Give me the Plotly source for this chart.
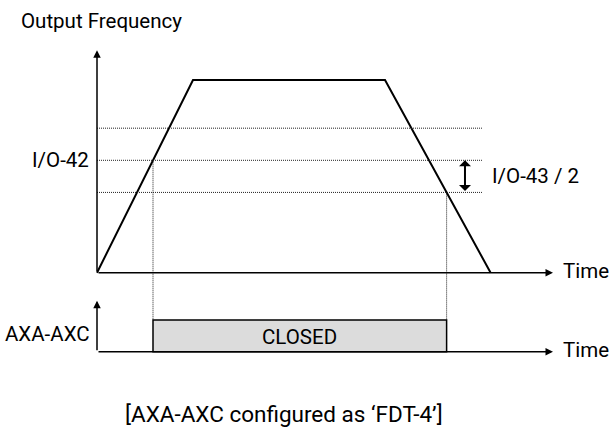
import numpy as np
import plotly.graph_objects as go

# ---- data (diagram values) ----
time_pts = [0.0, 1.0, 3.0, 4.1]        # accel start, reach max, decel start, stop
freq_pts = [0.0, 60.0, 60.0, 0.0]      # output frequency
io42 = 35.0                            # I/O-42 detection frequency
io43 = 20.0                            # I/O-43 band width
axis_labels = ["Output Frequency", "Time", "AXA-AXC", "Time"]
band_labels = ["I/O-42", "I/O-43 / 2"]
state_label = "CLOSED"
caption = "[AXA-AXC configured as \u2018FDT-4\u2019]"

# ---- derived ----
upper = io42 + io43 / 2
lower = io42 - io43 / 2
t_on = float(np.interp(io42, freq_pts[0:2], time_pts[0:2]))
t_off = float(np.interp(lower, freq_pts[3:1:-1], time_pts[3:1:-1]))

# ---- layout constants ----
FONT = "Roboto, Liberation Sans, Arial, sans-serif"
FS = 20.5
BASE = -24.6      # baseline of the contact panel
BOX_H = 9.9       # height of the CLOSED box
T_END = 4.75      # time-axis arrow tip
F_TOP = 69.3      # frequency axis arrow tip
DOT_END = 4.01
DOT = dict(color="#222222", width=1, dash="1px,1px")

fig = go.Figure()

# frequency profile
fig.add_trace(go.Scatter(x=time_pts, y=freq_pts, mode="lines",
                         line=dict(color="black", width=2), hoverinfo="skip"))

shapes = []
for lv in [upper, io42, lower]:
    shapes.append(dict(type="line", xref="x", yref="y", x0=0, x1=DOT_END, y0=lv, y1=lv, line=DOT))
shapes.append(dict(type="line", xref="x", yref="y", x0=t_on, x1=t_on, y0=io42, y1=BASE + BOX_H, line=DOT))
shapes.append(dict(type="line", xref="x", yref="y", x0=t_off, x1=t_off, y0=lower, y1=BASE + BOX_H, line=DOT))
shapes.append(dict(type="rect", xref="x", yref="y", x0=t_on, x1=t_off, y0=BASE, y1=BASE + BOX_H,
                   fillcolor="#dcdcdc", line=dict(color="black", width=1.5)))

annotations = []

def arrow(x0, y0, x1, y1, head=2, side="end", size=1.0, width=1.5):
    annotations.append(dict(x=x1, y=y1, ax=x0, ay=y0, xref="x", yref="y", axref="x", ayref="y",
                            text="", showarrow=True, arrowhead=head, startarrowhead=head,
                            arrowside=side, arrowsize=size, arrowwidth=width, arrowcolor="black",
                            standoff=0, startstandoff=0))

# axes arrows
arrow(0, 0, T_END, 0)
arrow(0, 0, 0, F_TOP)
arrow(0, BASE, T_END, BASE)
arrow(0, BASE, 0, BASE + 15.9)
# band arrow (I/O-43 / 2)
arrow(3.833, lower, 3.833, io42, head=1, side="end+start", size=1.0, width=2)


def label(x, y, text, xa="left", ya="middle", size=FS):
    annotations.append(dict(x=x, y=y, xref="x", yref="y", text=text, showarrow=False,
                            xanchor=xa, yanchor=ya, borderpad=0,
                            font=dict(family=FONT, size=size, color="black")))

label(-0.80, 78.3, axis_labels[0])
label(4.84, 0.4, axis_labels[1])
label(-0.06, BASE + 5.4, axis_labels[2], xa="right")
label(4.84, BASE + 0.4, axis_labels[3])
label(-0.07, io42 + 0.2, band_labels[0], xa="right")
label(4.10, (io42 + lower) / 2 + 0.2, band_labels[1])
label((t_on + t_off) / 2, BASE + BOX_H / 2 - 0.4, state_label, xa="center")
label(1.95, -44.0, caption, xa="center", size=22.5)

fig.update_layout(
    width=611, height=434, autosize=False,
    margin=dict(l=0, r=0, t=0, b=0),
    paper_bgcolor="white", plot_bgcolor="white",
    showlegend=False,
    xaxis=dict(range=[-1.0104, 5.354], visible=False, fixedrange=True),
    yaxis=dict(range=[-50.22, 84.91], visible=False, fixedrange=True),
    shapes=shapes, annotations=annotations,
)

fig.write_html("out.html", config={"displayModeBar": False},
               post_script="document.body.style.margin='0';document.body.style.overflow='hidden';")
